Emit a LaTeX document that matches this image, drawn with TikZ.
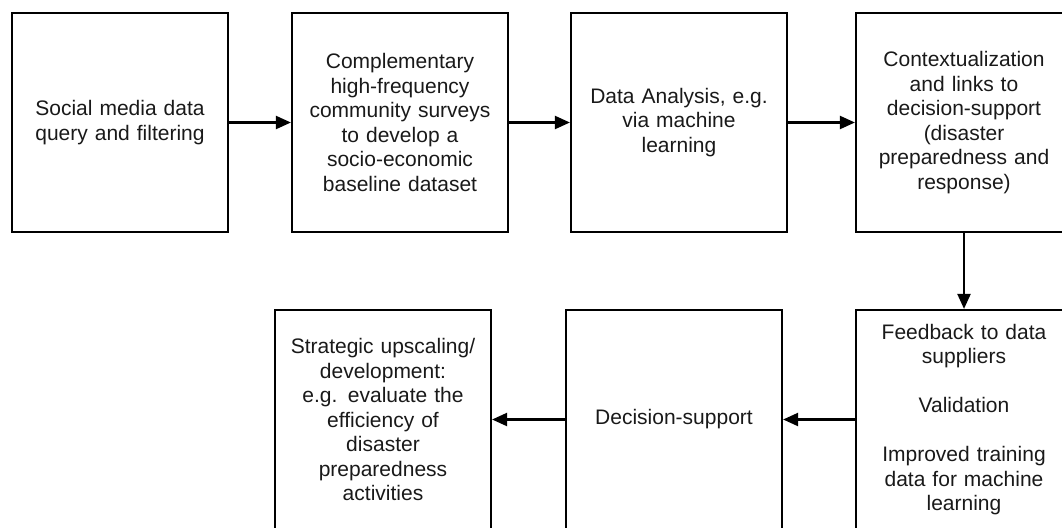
\documentclass[tikz,border=0pt]{standalone}
\usepackage{fontspec}
\setmainfont{Liberation Sans}
\usetikzlibrary{arrows.meta}
\tikzset{
  box/.style={draw=black, line width=2.2pt, minimum width=216pt, minimum height=219pt,
    inner sep=0pt, text width=212pt, align=center, text=black!90,
    font=\fontsize{21}{24.5}\selectfont},
  conn/.style={line width=2.2pt, -{Triangle[length=15pt,width=13pt]}}
}
\begin{document}
\begin{tikzpicture}[x=1pt,y=-1pt]
\useasboundingbox (0,0) rectangle (1062,527);
\clip (0,0) rectangle (1062,527);
\node[box] (b1) at (120,122.5) {Social media data\\query and filtering};
\node[box] (b2) at (400,122.5) {Complementary\\high-frequency\\community surveys\\to develop a\\socio-economic\\baseline dataset};
\node[box] (b3) at (679,122.5) {Data Analysis, e.g.\\via machine\\learning};
\node[box] (b4) at (964,122.5) {Contextualization\\and links to\\decision-support\\(disaster\\preparedness and\\response)};
\node[box] (b5) at (383,419.5) {Strategic upscaling/\\development:\\e.g. evaluate the\\efficiency of\\disaster\\preparedness\\activities};
\node[box] (b6) at (674,419.5) {Decision-support};
\node[box] (b7) at (964,419.5) {Feedback to data\\suppliers\\[24.5pt]Validation\\[24.5pt]Improved training\\data for machine\\learning};
\draw[conn] (b1) -- (b2);
\draw[conn] (b2) -- (b3);
\draw[conn] (b3) -- (b4);
\draw[conn] (b4) -- (b7);
\draw[conn] (b7) -- (b6);
\draw[conn] (b6) -- (b5);
\end{tikzpicture}
\end{document}
